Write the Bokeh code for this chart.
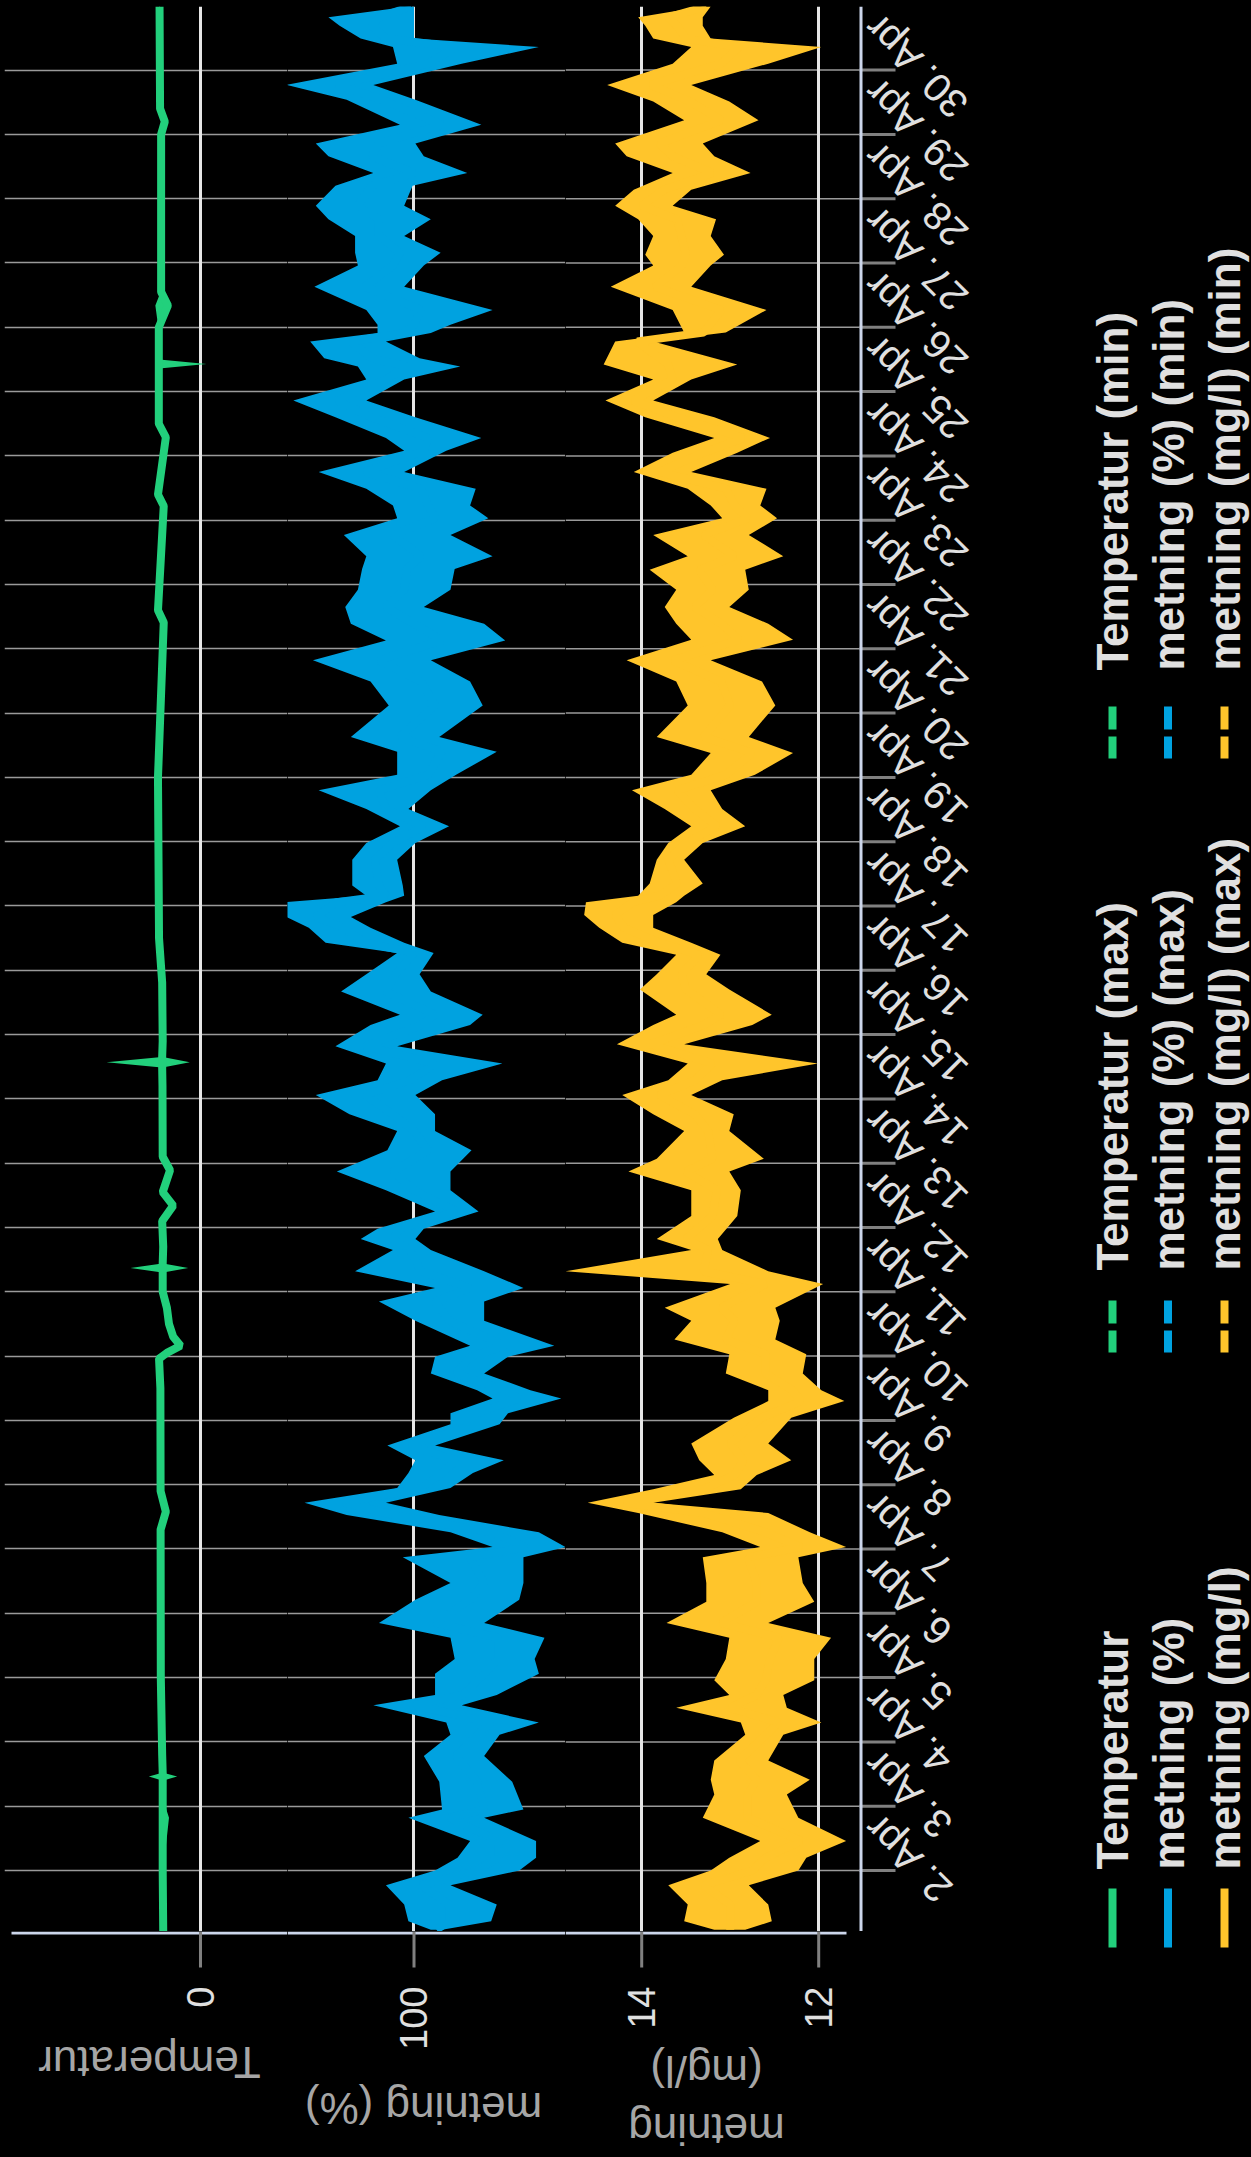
import math
import pandas as pd
from bokeh.plotting import figure
from bokeh.layouts import row, column
from bokeh.models import Range1d, FixedTicker, Grid, ColumnDataSource, Span
from bokeh.core.properties import value
from bokeh.embed import file_html
from bokeh.resources import INLINE

# ---------------- data (day of April as decimal) ----------------
tick_days = list(range(2, 31))
tick_labels = [f"{d}. Apr" for d in tick_days]

temp_ticks = [0]
pct_ticks = [100]
mgl_ticks = [12, 14]

temp_dag = [1.05, 2.00, 2.82, 3.10, 3.40, 3.46, 3.52, 3.80, 5.00, 7.30, 7.58, 7.90, 9.50, 9.96,
            10.05, 10.16, 10.30, 10.50, 10.75, 11.00, 11.30, 11.37, 11.44, 11.70, 12.10, 12.34,
            12.55, 12.89, 13.10, 14.20, 14.49, 14.57, 14.65, 14.90, 15.81, 16.50, 19.00, 21.41,
            21.60, 23.22, 23.40, 24.29, 24.50, 25.36, 25.43, 25.50, 26.00, 26.34, 26.55, 29.00,
            29.20, 29.40, 30.99]
temp_val = [3.55, 3.6, 3.6, 3.6, 3.6, 3.6, 3.6, 3.65, 3.78, 3.8, 3.3, 3.8, 3.82, 3.95,
            3.2, 1.9, 2.6, 3.0, 3.2, 3.6, 3.6, 3.6, 3.6, 3.55, 3.65, 2.6,
            3.6, 2.9, 3.6, 3.62, 3.65, 3.65, 3.65, 3.6, 3.65, 3.95, 4.05, 3.5,
            4.05, 3.5, 4.05, 3.3, 3.97, 3.97, 3.97, 3.97, 3.97, 3.1, 3.75, 3.75,
            3.4, 3.85, 3.9]
temp_max = [3.6, 3.65, 3.65, 3.65, 3.65, 4.92, 3.65, 3.7, 3.83, 3.85, 3.5, 3.85, 3.87, 4.0,
            3.3, 2.0, 2.7, 3.1, 3.3, 3.65, 3.65, 6.67, 3.65, 3.6, 3.7, 2.7,
            3.65, 3.0, 3.65, 3.67, 3.7, 8.95, 3.7, 3.65, 3.7, 4.0, 4.1, 3.6,
            4.1, 3.6, 4.1, 3.4, 4.02, 4.02, 4.02, 4.02, 4.02, 4.3, 3.8, 3.8,
            3.5, 3.9, 3.95]
temp_min = [3.5, 3.55, 3.0, 3.55, 3.55, 2.22, 3.55, 3.6, 3.73, 3.75, 3.0, 3.75, 3.77, 3.9,
            3.1, 1.74, 2.5, 2.9, 3.1, 3.55, 3.55, 1.17, 3.55, 3.5, 3.6, 2.5,
            3.55, 2.8, 3.55, 3.57, 3.6, 1.02, 3.6, 3.55, 3.4, 3.9, 4.0, 3.27,
            4.0, 3.27, 4.0, 3.0, 3.92, 3.92, -0.57, 3.92, 3.92, 2.76, 3.7, 3.7,
            3.17, 3.8, 3.85]

pct_dag = [1.08, 1.21, 1.47, 1.77, 2.00, 2.20, 2.46, 2.82, 2.95, 3.38, 3.78, 4.11, 4.30, 4.57,
           4.73, 5.06, 5.29, 5.62, 5.85, 6.21, 6.47, 6.87, 7.03, 7.26, 7.53, 7.72, 7.95, 8.18,
           8.38, 8.61, 8.94, 9.11, 9.34, 9.47, 9.73, 9.99, 10.16, 10.55, 10.85, 11.06, 11.32,
           11.65, 11.82, 11.98, 12.25, 12.58, 12.87, 13.20, 13.50, 13.76, 14.06, 14.29, 14.55,
           14.82, 15.15, 15.31, 15.67, 15.94, 16.27, 16.43, 16.66, 16.83, 17.06, 17.16, 17.32,
           17.72, 17.98, 18.24, 18.51, 18.80, 19.04, 19.40, 19.63, 20.12, 20.49, 20.82, 21.13,
           21.39, 21.65, 21.92, 22.24, 22.44, 22.77, 23.03, 23.23, 23.49, 23.75, 24.08, 24.28,
           24.60, 24.86, 25.19, 25.39, 25.52, 25.78, 25.91, 26.04, 26.27, 26.63, 26.96, 27.16,
           27.42, 27.68, 27.89, 28.20, 28.40, 28.66, 28.86, 29.15, 29.54, 29.77, 30.10, 30.36,
           30.49, 30.69, 30.82, 30.99]
pct_max = [98.8, 100.4, 100.7, 102.0, 98.5, 96.9, 96.0, 100.4, 98.0, 98.2, 99.3, 97.4, 97.7, 102.9,
           98.5, 98.5, 97.1, 97.4, 102.5, 99.9, 97.4, 100.8, 94.4, 97.4, 104.8, 107.8, 101.2, 100.4,
           99.9, 101.9, 97.4, 97.4, 94.4, 95.5, 98.8, 98.5, 96.0, 99.9, 102.5, 98.5, 104.2,
           101.5, 103.8, 102.6, 98.5, 102.0, 105.5, 101.9, 101.2, 104.6, 107.0, 102.6, 102.0,
           105.6, 103.1, 101.0, 105.2, 103.4, 101.2, 106.3, 107.5, 109.1, 109.1, 103.4, 104.4,
           104.4, 103.4, 101.0, 103.4, 106.8, 101.2, 101.2, 104.5, 101.8, 103.1, 107.2, 102.0,
           104.5, 104.9, 104.0, 103.7, 103.4, 105.0, 101.2, 101.5, 103.4, 106.8, 100.7, 102.0,
           105.6, 108.6, 103.4, 104.0, 106.4, 107.4, 102.6, 102.6, 103.4, 107.1, 104.0, 104.2,
           104.2, 106.1, 107.0, 105.6, 102.9, 106.1, 107.0, 101.0, 104.8, 109.1, 101.2, 101.5,
           103.8, 105.3, 106.1, 100.4]
pct_min = [98.0, 94.5, 94.1, 97.4, 92.5, 91.3, 91.3, 95.0, 92.2, 93.0, 95.0, 93.9, 91.1, 96.6,
           94.1, 91.1, 91.4, 90.7, 95.0, 92.5, 92.2, 92.2, 89.2, 91.1, 98.2, 102.0, 97.4, 95.8,
           93.6, 98.5, 93.9, 93.3, 89.5, 91.7, 95.0, 93.3, 90.0, 95.0, 95.0, 92.2, 95.0,
           98.8, 99.9, 99.3, 95.4, 97.4, 97.4, 95.9, 98.5, 98.5, 99.9, 98.0, 93.7,
           101.2, 96.0, 95.1, 98.8, 99.6, 98.6, 100.7, 103.1, 104.5, 102.0, 100.7, 100.8,
           101.2, 99.9, 97.5, 100.4, 98.8, 97.0, 94.1, 98.2, 95.1, 96.0, 98.8, 93.5,
           95.0, 99.3, 97.4, 97.1, 94.4, 97.4, 94.7, 96.0, 95.6, 100.7, 97.7, 95.2,
           99.9, 103.4, 100.7, 96.7, 99.6, 102.0, 98.8, 97.4, 94.4, 100.7, 99.3, 98.1,
           100.7, 98.8, 100.7, 100.1, 96.2, 99.3, 99.9, 95.2, 99.9, 102.9, 96.6, 91.1,
           100.0, 100.0, 100.0, 100.0]
pct_val = [98.4, 97.5, 97.5, 99.5, 95.5, 94.0, 94.0, 97.5, 95.0, 95.5, 97.0, 95.5, 94.5, 100.0,
           96.5, 95.0, 94.0, 94.0, 98.5, 96.0, 95.0, 96.0, 92.0, 94.5, 101.5, 105.0, 99.5, 98.0,
           97.0, 100.3, 95.5, 95.5, 92.5, 93.5, 97.0, 96.0, 93.5, 97.5, 98.5, 96.0, 99.5,
           100.3, 101.5, 101.0, 97.0, 100.0, 101.5, 99.0, 100.0, 101.5, 103.5, 100.3, 98.5,
           103.5, 99.5, 98.5, 102.0, 101.3, 100.0, 103.5, 105.0, 107.0, 105.5, 102.0, 102.5,
           102.8, 101.5, 99.3, 102.0, 102.5, 99.0, 98.0, 101.0, 98.5, 99.5, 102.5, 98.0,
           100.0, 102.0, 100.7, 100.5, 99.5, 101.5, 98.5, 99.0, 99.5, 103.5, 99.3, 99.0,
           103.0, 105.5, 102.0, 100.5, 103.0, 104.5, 100.7, 100.0, 99.5, 103.5, 101.5, 101.0,
           102.5, 102.5, 104.0, 103.0, 100.0, 103.0, 102.5, 98.0, 102.3, 105.5, 99.0, 97.0,
           102.0, 103.0, 102.5, 100.2]

mgl_dag = [1.08, 1.21, 1.47, 1.77, 2.00, 2.20, 2.46, 2.82, 3.18, 3.41, 3.71, 4.11, 4.30, 4.53,
           4.73, 4.96, 5.29, 5.62, 5.85, 6.18, 6.47, 6.87, 7.03, 7.26, 7.56, 7.72, 7.93, 8.15,
           8.38, 8.64, 9.04, 9.30, 9.47, 9.73, 10.03, 10.26, 10.55, 10.75, 11.12, 11.32, 11.65,
           11.82, 12.18, 12.58, 12.87, 13.07, 13.50, 13.76, 14.06, 14.29, 14.55, 14.85, 15.15,
           15.31, 15.70, 15.94, 16.24, 16.43, 16.66, 16.86, 17.06, 17.16, 17.35, 17.72, 17.98,
           18.24, 18.51, 18.80, 19.04, 19.38, 19.63, 20.12, 20.49, 20.82, 21.14, 21.39, 21.65,
           21.92, 22.23, 22.44, 22.77, 23.03, 23.23, 23.49, 23.75, 24.05, 24.28, 24.60, 24.86,
           25.19, 25.42, 25.78, 25.92, 26.27, 26.63, 26.96, 27.13, 27.42, 27.68, 27.89, 28.14,
           28.40, 28.66, 28.86, 29.22, 29.51, 29.77, 30.10, 30.36, 30.49, 30.69, 30.82, 30.99]
mgl_max = [13.18, 13.52, 13.48, 13.70, 13.22, 13.01, 12.66, 13.31, 13.18, 13.22, 13.18, 12.83, 12.88, 13.61,
           13.01, 13.18, 13.05, 13.01, 13.72, 13.27, 13.27, 13.31, 12.66, 13.09, 14.04, 14.61, 13.87, 13.18,
           13.35, 13.44, 12.96, 12.57, 12.57, 13.05, 13.01, 13.63, 13.44, 13.74, 13.00, 14.86, 13.44,
           13.83, 13.44, 13.44, 14.15, 13.83, 13.52, 13.87, 14.22, 13.70, 13.48, 14.28, 13.87,
           13.61, 14.02, 13.83, 13.61, 14.22, 14.48, 14.65, 14.63, 14.04, 13.91, 13.83, 13.70,
           13.44, 13.74, 14.11, 13.44, 13.22, 13.83, 13.48, 13.61, 14.17, 13.44, 13.61, 13.74,
           13.61, 13.91, 13.48, 13.87, 13.09, 13.22, 13.48, 14.09, 13.65, 13.18, 13.96, 14.41,
           13.87, 14.43, 14.30, 13.52, 13.65, 14.35, 13.87, 13.96, 13.87, 14.04, 14.30, 14.09,
           13.65, 14.17, 14.30, 13.52, 13.87, 14.39, 13.65, 13.44, 13.87, 13.96, 14.04, 13.31]
mgl_min = [12.83, 12.53, 12.57, 12.79, 12.23, 12.14, 11.69, 12.23, 12.36, 12.10, 12.57, 12.40, 11.97, 12.36,
           12.40, 12.05, 12.05, 11.86, 12.57, 12.05, 12.18, 12.23, 11.69, 12.10, 12.57, 13.87, 12.88, 12.70,
           12.31, 12.57, 12.31, 11.71, 11.97, 12.18, 12.14, 12.49, 12.44, 12.49, 11.95, 12.57, 13.09,
           13.14, 12.92, 12.88, 13.01, 12.62, 13.01, 12.96, 13.44, 13.09, 12.01, 13.52, 12.75,
           12.53, 13.01, 13.27, 13.11, 13.44, 13.87, 13.87, 13.61, 13.52, 13.31, 13.52, 13.31,
           12.83, 13.09, 13.22, 12.72, 12.29, 12.79, 12.49, 12.64, 13.22, 12.29, 12.57, 13.01,
           12.79, 12.83, 12.40, 12.79, 12.47, 12.66, 12.59, 13.44, 12.92, 12.55, 13.18, 13.87,
           13.44, 12.92, 13.87, 13.05, 12.59, 13.44, 13.22, 13.07, 13.22, 13.16, 13.65, 13.44,
           12.77, 13.18, 13.31, 12.68, 13.01, 13.44, 12.57, 11.97, 13.22, 13.31, 13.31, 13.22]
mgl_val = [13.00, 13.00, 13.00, 13.30, 12.75, 12.60, 12.20, 12.80, 12.80, 12.70, 12.90, 12.60, 12.45, 13.00,
           12.70, 12.60, 12.55, 12.45, 13.10, 12.70, 12.70, 12.80, 12.20, 12.60, 13.30, 14.20, 13.30, 12.95,
           12.85, 13.00, 12.65, 12.20, 12.30, 12.60, 12.60, 13.05, 12.95, 13.10, 12.60, 13.30, 13.25,
           13.50, 13.20, 13.15, 13.50, 13.20, 13.25, 13.40, 13.80, 13.40, 13.20, 13.90, 13.30,
           13.10, 13.50, 13.55, 13.35, 13.80, 14.20, 14.30, 14.10, 13.80, 13.60, 13.70, 13.50,
           13.15, 13.40, 13.60, 13.05, 12.75, 13.30, 13.00, 13.10, 13.65, 12.90, 13.10, 13.40,
           13.20, 13.35, 12.95, 13.30, 12.80, 12.95, 13.05, 13.80, 13.30, 12.85, 13.60, 14.10,
           13.65, 13.70, 14.05, 13.30, 13.10, 13.85, 13.55, 13.50, 13.55, 13.60, 14.00, 13.75,
           13.20, 13.65, 13.80, 13.10, 13.45, 13.90, 13.10, 12.90, 13.50, 13.60, 13.70, 13.27]

series_names = ["Temperatur", "metning (%)", "metning (mg/l)"]
axis_titles = ["Temperatur", "metning (%)", "metning\n(mg/l)"]
series_colors = ["#22d07c", "#00a2e0", "#ffc52b"]

# ---------------- style / geometry ----------------
FONT = "Liberation Sans"
BG = "#000000"
AXIS_C = "#ccd6eb"
TICK_C = "#808080"
DGRID_C = "#9a9a9a"
VGRID_C = "#e6e6e6"
LABEL_C = "#e0e0e0"
TITLE_C = "#a6a6a6"
TOP = 6
FH = 1925
STRIP_H = 225
TICK_LEN = 36

START = pd.Timestamp("2023-04-01")


def to_ms(days):
    return [(START + pd.Timedelta(days=d - 1)).value / 1e6 for d in days]


D0, D1 = 1.0513, 30.989
y_rng = Range1d(start=to_ms([D0])[0], end=to_ms([D1])[0])
day_ms = to_ms(tick_days)

# value scales of the three panes (value grows to the left)
xr_temp = Range1d(18.667, -8.286)
xr_pct = Range1d(109.016, 89.202)
MGL_PX = 88.5                     # pixels per mg/l
mgl_px = lambda px: 14 - (px - 641.2) / MGL_PX   # page x -> mg/l value
xr_mgl = Range1d(mgl_px(565), mgl_px(1000))        # frame also holds the date axis
MGL_END = mgl_px(859)                               # right edge of the mg/l pane


def base_fig(**kw):
    p = figure(output_backend="svg", toolbar_location=None, background_fill_color=BG,
               border_fill_color=BG, outline_line_color=None,
               x_axis_location=None, y_axis_location=None, **kw)
    for g in p.grid:
        g.visible = False
    return p


def make_pane(fw, x_rng, ticks, dag, val, mx, mn, color, left=0, date_grid=True):
    p = base_fig(frame_width=fw, frame_height=FH, x_range=x_rng, y_range=y_rng,
                 min_border=0, min_border_left=left, min_border_top=TOP)
    if date_grid:
        p.add_layout(Grid(dimension=1, ticker=FixedTicker(ticks=day_ms),
                          grid_line_color=DGRID_C, grid_line_width=1.5))
    p.add_layout(Grid(dimension=0, ticker=FixedTicker(ticks=ticks),
                      grid_line_color=VGRID_C, grid_line_width=3))
    src = ColumnDataSource(dict(t=to_ms(dag), v=val, hi=mx, lo=mn))
    p.harea(x1="lo", x2="hi", y="t", source=src, fill_color=color)
    p.line(x="v", y="t", source=src, line_color=color, line_width=8)
    return p


def make_strip(fw, x_rng, x_start, x_end, ticks, title, title_x, title_y, left=0):
    """Axis line, ticks, rotated tick labels and axis title under a pane."""
    s = base_fig(frame_width=fw, frame_height=STRIP_H, x_range=x_rng,
                 y_range=Range1d(STRIP_H, 0), min_border=0, min_border_left=left)
    s.segment(x0=[x_start], y0=[1.5], x1=[x_end], y1=[1.5], line_color=AXIS_C, line_width=3)
    s.segment(x0=ticks, y0=[0] * len(ticks), x1=ticks, y1=[TICK_LEN] * len(ticks),
              line_color=TICK_C, line_width=3)
    s.text(x=ticks, y=[55] * len(ticks), text=[f"{t:g}" for t in ticks], angle=math.pi / 2,
           text_align="right", text_baseline="middle", text_color=LABEL_C,
           text_font=value(FONT), text_font_size="38px")
    s.text(x=[title_x], y=[title_y], text=[title], angle=math.pi, text_align="center",
           text_baseline="middle", text_color=TITLE_C, text_font=value(FONT),
           text_font_size="44px", text_line_height=1.2)
    return s


p_temp = make_pane(283, xr_temp, temp_ticks, temp_dag, temp_val, temp_max, temp_min,
                   series_colors[0], left=4)
p_pct = make_pane(278, xr_pct, pct_ticks, pct_dag, pct_val, pct_max, pct_min, series_colors[1])
p_mgl = make_pane(435, xr_mgl, mgl_ticks, mgl_dag, mgl_val, mgl_max, mgl_min, series_colors[2],
                  date_grid=False)

# date grid lines of the mg/l pane stop at the pane edge; the date axis sits right of it
dsrc = ColumnDataSource(dict(t=day_ms, lab=tick_labels))
p_mgl.segment(x0=xr_mgl.start, y0="t", x1=MGL_END, y1="t", source=dsrc,
              line_color=DGRID_C, line_width=1.5, level="underlay")
p_mgl.add_layout(Span(location=mgl_px(860.5), dimension="height", line_color=AXIS_C,
                      line_width=3))
p_mgl.segment(x0=MGL_END, y0="t", x1=mgl_px(859 + TICK_LEN), y1="t", source=dsrc,
              line_color=TICK_C, line_width=3)
p_mgl.text(x=mgl_px(869), y="t", text="lab", source=dsrc, angle=3 * math.pi / 4,
           text_align="right", text_baseline="middle", y_offset=-50,
           text_color=LABEL_C, text_font=value(FONT), text_font_size="40px")

s_temp = make_strip(283, xr_temp, 18.0, xr_temp.end, temp_ticks, axis_titles[0], 4.857, 131,
                    left=4)
s_pct = make_strip(278, xr_pct, xr_pct.start, xr_pct.end, pct_ticks, axis_titles[1], 99.32, 177)
s_mgl = make_strip(435, xr_mgl, xr_mgl.start, mgl_px(846), mgl_ticks, axis_titles[2],
                   mgl_px(706), 169)

# ---------------- legend (rotated) ----------------
WL = 251
LH = TOP + FH + STRIP_H
p_leg = base_fig(frame_width=WL, frame_height=LH, x_range=Range1d(0, WL), y_range=Range1d(LH, 0),
                 min_border=0)
col_x = [112, 167.5, 224]
rows_spec = [("", None, 1888, 1947, 1869), (" (max)", "23 7", 1300, 1352, 1270),
             (" (min)", "23 7", 706, 758, 670)]
for suffix, dash, y0, y1, yt in rows_spec:
    for name, color, cx in zip(series_names, series_colors, col_x):
        kw = {} if dash is None else {"line_dash": dash}
        p_leg.segment(x0=cx, y0=y0, x1=cx, y1=y1, line_color=color, line_width=8, **kw)
        p_leg.text(x=[cx], y=[yt], text=[name + suffix], angle=math.pi / 2,
                   text_align="left", text_baseline="middle", text_color=LABEL_C,
                   text_font=value(FONT), text_font_size="44px", text_font_style="bold")

layout = row(column(row(p_temp, p_pct, p_mgl, spacing=0),
                    row(s_temp, s_pct, s_mgl, spacing=0), spacing=0),
             p_leg, spacing=0)
layout.styles = {"background-color": BG}

html = file_html(layout, INLINE, title="metning")
html = html.replace("<body>", '<body style="background:#000000;">')
open("out.html", "w").write(html)
